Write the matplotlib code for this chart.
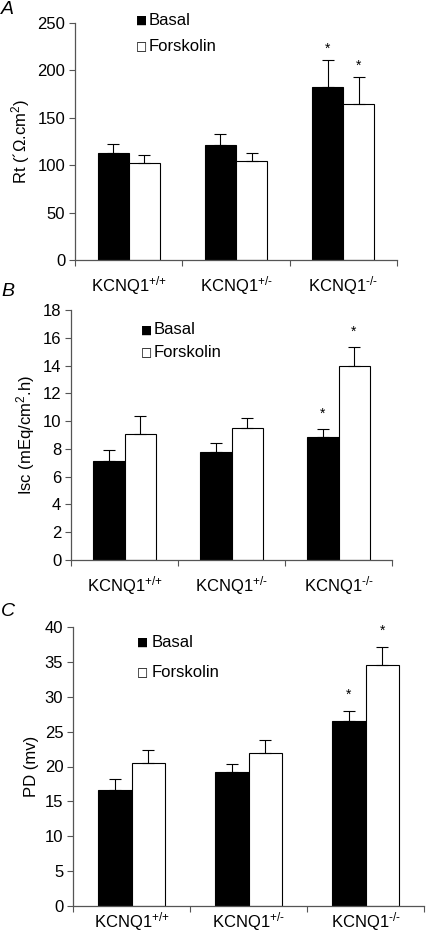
"""Three stacked bar panels: Rt, Isc and PD for KCNQ1 genotypes, basal vs forskolin."""

import matplotlib
matplotlib.use("Agg")
import matplotlib.pyplot as plt
import numpy as np

plt.rcParams["font.family"] = ["Liberation Sans", "DejaVu Sans"]
plt.rcParams["mathtext.fontset"] = "custom"
plt.rcParams["mathtext.rm"] = "Liberation Sans"
plt.rcParams["mathtext.it"] = "Liberation Sans:italic"

# --- data ---
GENOTYPES = ["KCNQ1$^{\\text{+/+}}$", "KCNQ1$^{\\text{+/-}}$", "KCNQ1$^{\\text{-/-}}$"]

RT_BASAL = [113, 121, 182]
RT_BASAL_ERR = [9, 12, 29]
RT_FORSK = [102, 104, 165]
RT_FORSK_ERR = [9, 9, 28]

ISC_BASAL = [7.1, 7.75, 8.85]
ISC_BASAL_ERR = [0.85, 0.65, 0.55]
ISC_FORSK = [9.1, 9.5, 14.0]
ISC_FORSK_ERR = [1.3, 0.75, 1.35]

PD_BASAL = [16.6, 19.2, 26.5]
PD_BASAL_ERR = [1.6, 1.2, 1.5]
PD_FORSK = [20.5, 22.0, 34.5]
PD_FORSK_ERR = [1.9, 1.8, 2.7]

# significance marks: (group index, series) where series 0 = basal, 1 = forskolin
RT_STARS = [(2, 0), (2, 1)]
ISC_STARS = [(2, 0), (2, 1)]
PD_STARS = [(2, 0), (2, 1)]

# --- layout ---
W, H = 426, 936
BAR_W = 0.29
AXIS_COLOR = "#555555"
FS = 12


def fig_rect(left, right, top, bottom):
    return [left / W, 1 - bottom / H, (right - left) / W, (bottom - top) / H]


def draw_panel(ax, basal, basal_err, forsk, forsk_err, stars, ymax, ystep,
               ylabel, star_pad, legend_xy, legend_dy, label_pad=10):
    x = np.arange(len(GENOTYPES))
    xb = x - BAR_W / 2
    xf = x + BAR_W / 2
    ax.bar(xb, basal, BAR_W, color="black", edgecolor="black", linewidth=0.8,
           zorder=2)
    ax.bar(xf, forsk, BAR_W, color="white", edgecolor="black", linewidth=0.8,
           zorder=2)
    for xs, vals, errs in ((xb, basal, basal_err), (xf, forsk, forsk_err)):
        ax.errorbar(xs, vals, yerr=[np.zeros(len(vals)), errs], fmt="none",
                    ecolor="black", elinewidth=0.8, capsize=4, capthick=0.8,
                    zorder=3)

    tops = [np.array(basal) + np.array(basal_err),
            np.array(forsk) + np.array(forsk_err)]
    for gi, si in stars:
        xs = xb[gi] if si == 0 else xf[gi]
        ax.text(xs, tops[si][gi] + star_pad, "*", ha="center", va="bottom",
                fontsize=10)

    ax.set_xlim(-0.5, len(GENOTYPES) - 0.5)
    ax.set_ylim(0, ymax)
    ax.set_yticks(np.arange(0, ymax + ystep / 2, ystep))
    ax.set_xticks(np.arange(-0.5, len(GENOTYPES), 1.0))
    ax.set_xticklabels([])
    ax.set_xticks(x, minor=True)
    ax.set_xticklabels(GENOTYPES, minor=True, fontsize=FS)
    ax.tick_params(axis="x", which="minor", length=0, pad=label_pad)
    ax.tick_params(axis="x", which="major", length=4, color=AXIS_COLOR,
                   direction="out")
    ax.tick_params(axis="y", length=4, color=AXIS_COLOR, labelsize=FS,
                   direction="out", pad=3)
    for side in ("top", "right"):
        ax.spines[side].set_visible(False)
    for side in ("left", "bottom"):
        ax.spines[side].set_color(AXIS_COLOR)
        ax.spines[side].set_linewidth(0.9)
    ax.set_ylabel(ylabel, fontsize=FS, labelpad=4)

    lx, ly = legend_xy
    for i, (name, face) in enumerate((("Basal", "black"), ("Forskolin", "white"))):
        yy = ly - i * legend_dy
        ax.text(lx, yy, "\u25A0" if face == "black" else "\u25A1",
                transform=ax.transAxes, fontsize=8.5, va="center", ha="left",
                family="DejaVu Sans", clip_on=False)
        ax.text(lx + 0.04, yy, name, transform=ax.transAxes, fontsize=FS,
                va="center", ha="left", clip_on=False)


fig = plt.figure(figsize=(W / 100, H / 100), dpi=100)

ax_a = fig.add_axes(fig_rect(75, 397, 23, 260))
draw_panel(ax_a, RT_BASAL, RT_BASAL_ERR, RT_FORSK, RT_FORSK_ERR, RT_STARS,
           250, 50, "Rt (\u00b4$\\Omega$.cm$^2$)", 4, (0.19, 1.012), 0.113)

ax_b = fig.add_axes(fig_rect(71, 392, 310, 560))
draw_panel(ax_b, ISC_BASAL, ISC_BASAL_ERR, ISC_FORSK, ISC_FORSK_ERR, ISC_STARS,
           18, 2, "Isc (mEq/cm$^2$.h)", 0.6, (0.218, 0.92), 0.092)

ax_c = fig.add_axes(fig_rect(73, 424, 627, 906))
draw_panel(ax_c, PD_BASAL, PD_BASAL_ERR, PD_FORSK, PD_FORSK_ERR, PD_STARS,
           40, 5, "PD (mv)", 1.3, (0.183, 0.946), 0.11, label_pad=3)

for label, y in (("A", 10), ("B", 292), ("C", 611)):
    fig.text(1 / W, 1 - y / H, label, fontsize=14, style="italic",
             va="center", ha="left")

fig.savefig("out.png", dpi=100, facecolor="white")
